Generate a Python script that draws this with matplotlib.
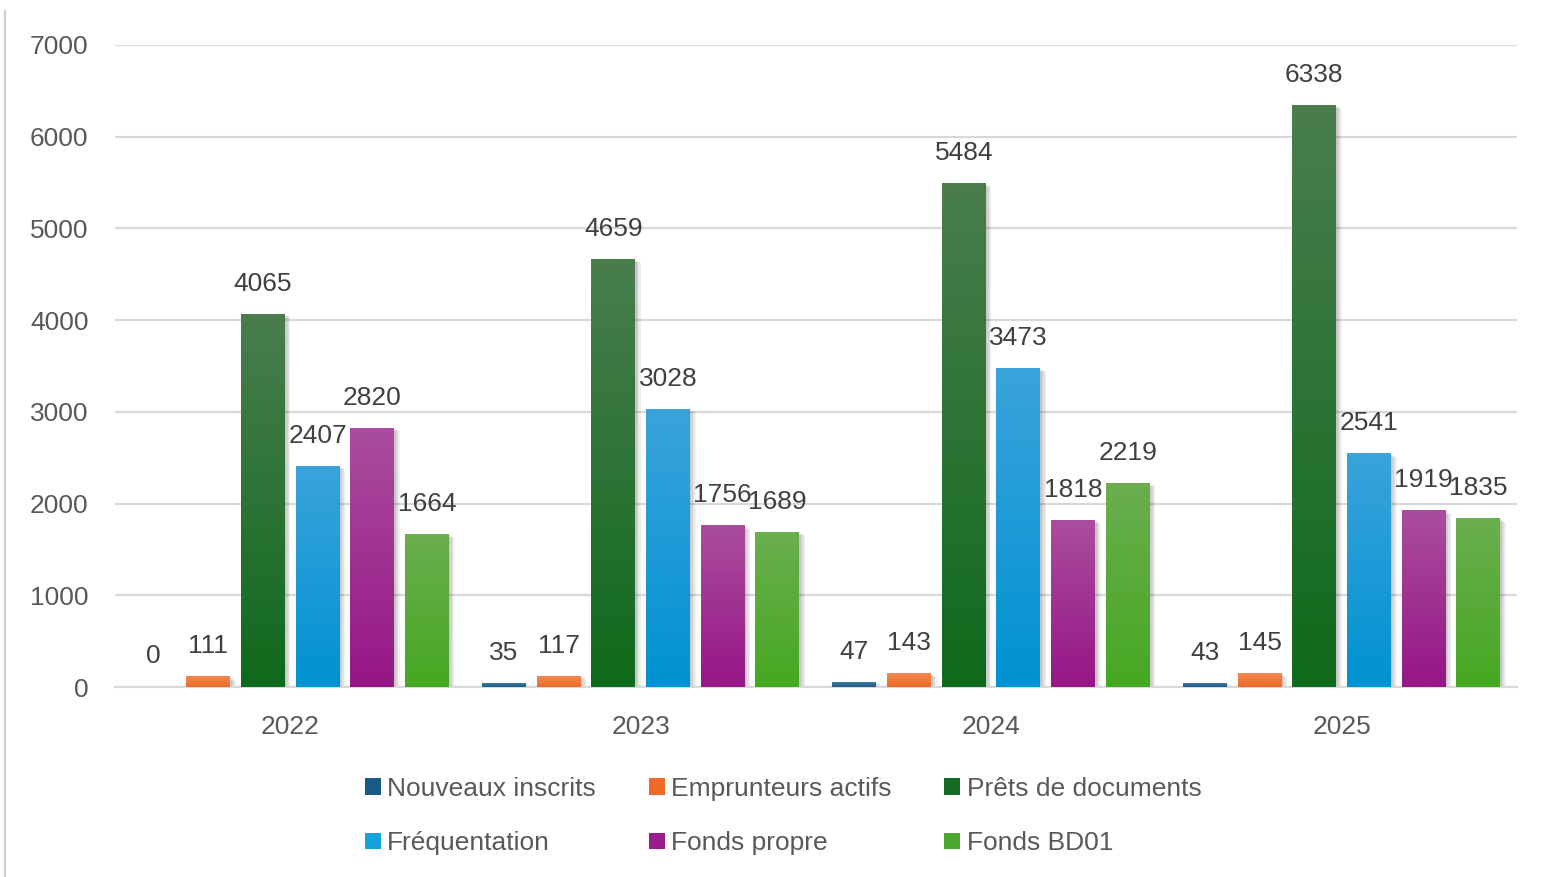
import numpy as np
import matplotlib.pyplot as plt
from matplotlib.colors import to_rgb
from matplotlib.patches import Patch
from matplotlib.lines import Line2D
import matplotlib.patheffects as pe

plt.rcParams['font.family'] = ['Liberation Sans', 'DejaVu Sans']

# data
years = ['2022', '2023', '2024', '2025']
series_names = ['Nouveaux inscrits', 'Emprunteurs actifs', 'Prêts de documents',
                'Fréquentation', 'Fonds propre', 'Fonds BD01']
nouveaux_inscrits = [0, 35, 47, 43]
emprunteurs_actifs = [111, 117, 143, 145]
prets_documents = [4065, 4659, 5484, 6338]
frequentation = [2407, 3028, 3473, 2541]
fonds_propre = [2820, 1756, 1818, 1919]
fonds_bd01 = [1664, 1689, 2219, 1835]
all_series = [nouveaux_inscrits, emprunteurs_actifs, prets_documents,
              frequentation, fonds_propre, fonds_bd01]

# (top colour, bottom colour) of each gradient
gradients = [('#3f7aa3', '#1b5a84'),
             ('#f4884e', '#ee6a26'),
             ('#4a7d4e', '#0f6a1c'),
             ('#3aa3dc', '#0092d2'),
             ('#aa4d9e', '#961686'),
             ('#6aae4e', '#46a822')]
legend_colors = ['#1b5a84', '#ee6a26', '#156b21', '#14a0dc', '#9c1c8c', '#4aa82e']

fig = plt.figure(figsize=(15.51, 8.77), dpi=100)
ax = fig.add_axes([0.0741, 0.2166, 0.9039, 0.7321])

x = np.arange(len(years))
pitch = 0.156
width = 0.1255
offsets = (np.arange(len(all_series)) - (len(all_series) - 1) / 2) * pitch

ax.set_xlim(-0.5, len(years) - 0.5)
ax.set_ylim(0, 7000)


def gradient_fill(bar, top, bottom):
    x0 = bar.get_x()
    x1 = x0 + bar.get_width()
    h = bar.get_height()
    if h <= 0:
        return
    t = np.linspace(0, 1, 100)[:, None]
    c_top = np.array(to_rgb(top))
    c_bot = np.array(to_rgb(bottom))
    img = (c_bot * (1 - t) + c_top * t)[:, None, :]
    ax.imshow(img, extent=[x0, x1, 0, h], origin='lower', aspect='auto',
              interpolation='bilinear', zorder=3)


# soft shadow: a few faint offset copies
shadow = [pe.SimplePatchShadow(offset=(o, -o / 2), shadow_rgbFace='#000000', alpha=0.06)
          for o in (1, 2, 3, 4)]

for i, values in enumerate(all_series):
    bars = ax.bar(x + offsets[i], values, width, color='white', zorder=2,
                  path_effects=shadow + [pe.Normal()])
    for bar in bars:
        gradient_fill(bar, *gradients[i])
    for xi, v in zip(x + offsets[i], values):
        ax.annotate(str(v), (xi, v), xytext=(0, 22), textcoords='offset points',
                    ha='center', va='center', fontsize=19, color='#404040', zorder=5)

ax.set_xlim(-0.5, len(years) - 0.5)
ax.set_ylim(0, 7000)

ax.set_yticks(range(0, 7001, 1000))
ax.set_xticks(x)
ax.set_xticklabels(years)
ax.grid(axis='y', color='#d9d9d9', linewidth=1.6, zorder=0)
ax.set_axisbelow(True)
for s in ['top', 'right', 'left']:
    ax.spines[s].set_visible(False)
ax.spines['bottom'].set_color('#d9d9d9')
ax.spines['bottom'].set_linewidth(1.6)
ax.tick_params(axis='both', length=0, labelsize=19, labelcolor='#595959')
ax.tick_params(axis='y', pad=19)
ax.tick_params(axis='x', pad=20)

handles = [Patch(facecolor=c) for c in legend_colors]
order = [0, 3, 1, 4, 2, 5]
fig.legend([handles[k] for k in order], [series_names[k] for k in order],
           ncol=3, loc='center', bbox_to_anchor=(0.505, 0.0695), frameon=False,
           fontsize=19, labelcolor='#595959', handlelength=0.6, handleheight=0.6,
           handletextpad=0.25, columnspacing=2.0, labelspacing=1.15)

# thin frame line on the left edge
fig.add_artist(Line2D([0.0035, 0.0035], [0, 0.988], color='#cfcfcf', linewidth=1.5))

fig.savefig('out.png', dpi=100)
